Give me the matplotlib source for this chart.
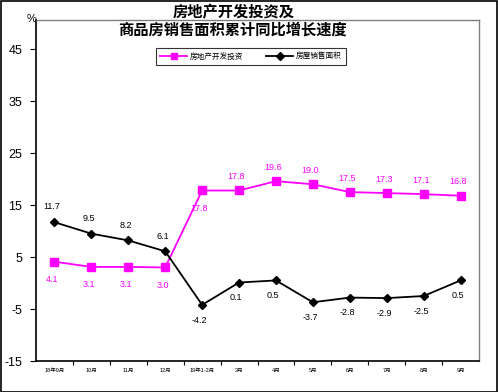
import matplotlib
matplotlib.use("Agg")
import matplotlib.pyplot as plt
from matplotlib.patches import Rectangle
from matplotlib.lines import Line2D

plt.rcParams['font.family'] = ['Liberation Sans', 'Noto Sans CJK SC', 'DejaVu Sans']

categories = ["18年9月", "10月", "11月", "12月", "19年1-2月", "3月", "4月", "5月", "6月", "7月", "8月", "9月"]
investment = [4.1, 3.1, 3.1, 3.0, 17.8, 17.8, 19.6, 19.0, 17.5, 17.3, 17.1, 16.8]
sales_area = [11.7, 9.5, 8.2, 6.1, -4.2, 0.1, 0.5, -3.7, -2.8, -2.9, -2.5, 0.5]
inv_label_pos = ["b", "b", "b", "b", "b", "a", "a", "a", "a", "a", "a", "a"]
area_label_pos = ["a", "a", "a", "a", "b", "b", "b", "b", "b", "b", "b", "b"]
yticks = [-15, -5, 5, 15, 25, 35, 45]
series_names = ["房地产开发投资", "房屋销售面积"]

W, H = 498, 392
fig = plt.figure(figsize=(W/100, H/100), dpi=100)
fig.patches.append(Rectangle((0.5/W, 0.5/H), 1-1.5/W, 1-1.5/H, transform=fig.transFigure,
                             fill=False, edgecolor='black', linewidth=1.2))

ax = fig.add_axes([36/W, (H-361)/H, (479-36)/W, (361-20)/H])
x = list(range(len(categories)))
mag = '#FF00FF'
ax.plot(x, investment, color=mag, lw=1.3, marker='s', ms=6, mfc=mag, mec=mag, zorder=3)
ax.plot(x, sales_area, color='black', lw=1.3, marker='D', ms=4.5, mfc='black', mec='black', zorder=4)

ax.set_xlim(-0.5, len(categories)-0.5)
ax.set_ylim(-15, 50.6)
ax.set_yticks(yticks)
ax.set_yticklabels([str(v) for v in yticks], fontsize=9)
ax.set_xticks(x)
ax.set_xticklabels(categories, fontsize=4)
ax.set_xticks([i+0.5 for i in x[:-1]], minor=True)
ax.tick_params(axis='x', which='major', length=0, pad=5)
ax.tick_params(axis='x', which='minor', length=3, direction='out', width=0.8)
ax.tick_params(axis='y', length=4, direction='out', width=0.8, pad=6)

for s in ['left', 'bottom']:
    ax.spines[s].set_color('black'); ax.spines[s].set_linewidth(1.2)
for s in ['top', 'right']:
    ax.spines[s].set_color('#808080'); ax.spines[s].set_linewidth(1.0)

for xi, v, p in zip(x, investment, inv_label_pos):
    off = 10 if p == "a" else -13
    ax.annotate(f"{v:.1f}", (xi, v), xytext=(-2, off), textcoords='offset points',
                ha='center', va='center', fontsize=6.5, color=mag)
for xi, v, p in zip(x, sales_area, area_label_pos):
    off = 11 if p == "a" else -11
    ax.annotate(f"{v:.1f}", (xi, v), xytext=(-2, off), textcoords='offset points',
                ha='center', va='center', fontsize=6.5, color='black')

fig.text(234/W, 1-13/H, "房地产开发投资及", ha='center', va='center', fontsize=11, fontweight='bold')
fig.text(233/W, 1-30/H, "商品房销售面积累计同比增长速度", ha='center', va='center', fontsize=11, fontweight='bold')
fig.text(32/W, 1-19/H, "%", ha='center', va='center', fontsize=8)

handles = [Line2D([], [], color=mag, lw=1.3, marker='s', ms=5),
           Line2D([], [], color='black', lw=1.3, marker='D', ms=4)]
leg = fig.legend(handles, series_names, loc='center', bbox_to_anchor=(251/W, 1-56.5/H),
                 ncol=2, fontsize=5.5, frameon=True, fancybox=False, edgecolor='black',
                 handlelength=3.5, columnspacing=3, borderpad=0.6, handletextpad=0.4)
leg.get_frame().set_linewidth(0.8)

fig.savefig("out.png", dpi=100)
